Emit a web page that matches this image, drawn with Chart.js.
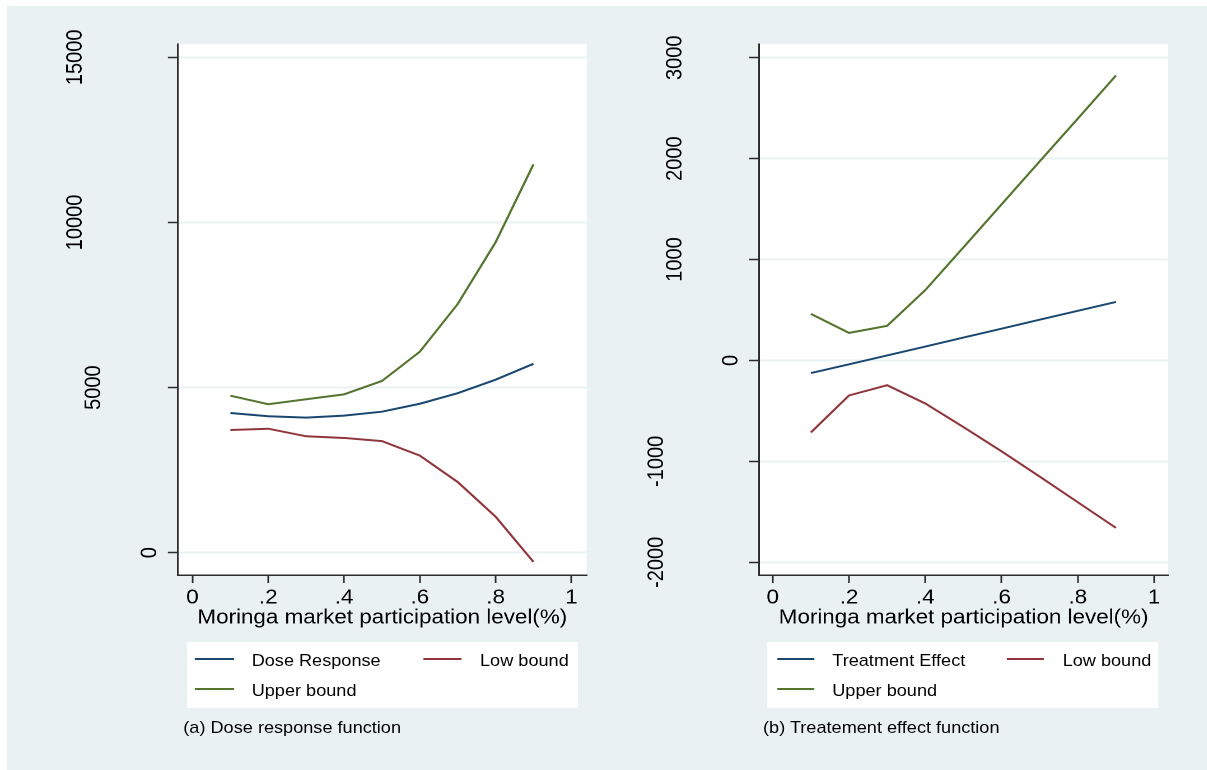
<!DOCTYPE html>
<html>
<head>
<meta charset="utf-8">
<script src="https://cdn.jsdelivr.net/npm/chart.js@4.4.1/dist/chart.umd.min.js"></script>
<style>
  html, body { margin:0; padding:0; background:#ffffff; width:1207px; height:770px; overflow:hidden; }
  #stage { position:absolute; left:0; top:0; width:1078px; height:770px;
           transform:scaleX(1.12); transform-origin:0 0;
           font-family:"Liberation Sans", Arial, sans-serif; color:#000; }
  #bg { position:absolute; left:6.2px; top:6px; right:0; bottom:0; background:#eaf1f3; }
  canvas { position:absolute; top:0; }
  .legend { position:absolute; background:#ffffff; top:641.7px; height:66px; }
  .lg-line { position:absolute; height:2px; }
  .lg-text { position:absolute; font-size:16.2px; line-height:20px; white-space:nowrap; }
  .caption { position:absolute; font-size:16.2px; line-height:20px; white-space:nowrap; top:716.7px; }
</style>
</head>
<body>
<div id="stage"><div id="bg"></div></div>
<script>
// ---------------- data ----------------
const xValues = [0.1, 0.2, 0.3, 0.4, 0.5, 0.6, 0.7, 0.8, 0.9];
const xTicks = [0, 0.2, 0.4, 0.6, 0.8, 1];
const xTickLabels = ['0', '.2', '.4', '.6', '.8', '1'];
const xTitle = 'Moringa market participation level(%)';

const doseResponse = [4230, 4130, 4090, 4150, 4270, 4510, 4830, 5240, 5720];
const doseLow      = [3715, 3755, 3525, 3475, 3380, 2940, 2140, 1090, -280];
const doseUpper    = [4755, 4495, 4645, 4795, 5200, 6085, 7530, 9400, 11760];
const doseYTicks   = [0, 5000, 10000, 15000];
const doseLabels   = ['Dose Response', 'Low bound', 'Upper bound'];

const effect       = [-125, -38, 50, 138, 227, 315, 404, 492, 580];
const effectLow    = [-713, -347, -245, -426, -660, -900, -1150, -1405, -1659];
const effectUpper  = [462, 273, 343, 697, 1121, 1547, 1973, 2396, 2824];
const effectYTicks = [-2000, -1000, 0, 1000, 2000, 3000];
const effectLabels = ['Treatment Effect', 'Low bound', 'Upper bound'];

const captions = ['(a) Dose response function', '(b) Treatement effect function'];

// ---------------- styles ----------------
const NAVY = '#1a476f', MAROON = '#90353b', GREEN = '#55752f';
const AXIS = '#2b2b2b', GRID = '#eaf1f3';
const FONT = '"Liberation Sans", Arial, sans-serif';

const plotBg = {
  id: 'plotBg',
  beforeDraw(chart) {
    const a = chart.chartArea, ctx = chart.ctx;
    ctx.save(); ctx.fillStyle = '#ffffff';
    ctx.fillRect(a.left, a.top, a.right - a.left, a.bottom - a.top);
    ctx.restore();
  }
};
const yLabels = {
  id: 'yLabels',
  afterDraw(chart) {
    const s = chart.scales.y, ctx = chart.ctx;
    ctx.save();
    ctx.fillStyle = '#000'; ctx.font = '20px ' + FONT;
    ctx.textAlign = 'center'; ctx.textBaseline = 'middle';
    s.ticks.forEach(t => {
      const txt = String(t.value);
      const y = s.getPixelForValue(t.value);
      const cx = s.right - 8 - 16.7 * txt.length;
      ctx.save(); ctx.translate(cx, y); ctx.rotate(-Math.PI / 2);
      ctx.fillText(txt, 0, 0); ctx.restore();
    });
    ctx.restore();
  }
};

const stage = document.getElementById('stage');

function makePanel(p) {
  const cv = document.createElement('canvas');
  cv.width = p.canvasW; cv.height = p.canvasH;
  cv.style.left = p.canvasLeft + 'px';
  stage.appendChild(cv);
  const colors = [NAVY, MAROON, GREEN];
  const datasets = p.series.map((arr, i) => ({
    label: p.labels[i],
    data: xValues.map((x, j) => ({ x: x, y: arr[j] })),
    borderColor: colors[i], backgroundColor: colors[i],
    borderWidth: 2, pointRadius: 0, tension: 0, fill: false
  }));
  const tgt = { left: p.area.left - p.canvasLeft, right: p.area.right - p.canvasLeft, top: p.area.top, bottom: p.area.bottom };
  const chart = new Chart(cv, {
    type: 'line',
    data: { datasets: datasets },
    options: {
      responsive: false, animation: false, devicePixelRatio: 2,
      layout: { padding: { left: tgt.left - 9, right: p.canvasW - tgt.right, top: tgt.top, bottom: 20 } },
      plugins: { legend: { display: false }, tooltip: { enabled: false } },
      scales: {
        x: {
          type: 'linear', min: p.xMin, max: p.xMax,
          afterBuildTicks: s => { s.ticks = xTicks.map(v => ({ value: v })); },
          ticks: { callback: (v, i) => xTickLabels[i], font: { family: FONT, size: 20 }, color: '#000',
                   padding: 3, maxRotation: 0, minRotation: 0, autoSkip: false },
          grid: { drawOnChartArea: false, drawTicks: true, tickLength: 8, tickColor: AXIS, tickWidth: 1.5 },
          border: { display: true, color: AXIS, width: 1.5 },
          title: { display: true, text: xTitle, color: '#000', font: { family: FONT, size: 20 },
                   padding: { top: -7, bottom: 0 } }
        },
        y: {
          type: 'linear', min: p.yMin, max: p.yMax,
          afterBuildTicks: s => { s.ticks = p.yTicks.map(v => ({ value: v })); },
          ticks: { display: false },
          grid: { color: GRID, lineWidth: 2, drawTicks: true, tickLength: 9, tickColor: AXIS, tickWidth: 1.5 },
          border: { display: true, color: AXIS, width: 1.5 }
        }
      }
    },
    plugins: [plotBg, yLabels]
  });
  for (let k = 0; k < 3; k++) {
    const ca = chart.chartArea;
    const pad = chart.config.options.layout.padding;
    chart.config.options.layout.padding = {
      left: pad.left + (tgt.left - ca.left),
      top: pad.top + (tgt.top - ca.top),
      right: pad.right + (ca.right - tgt.right),
      bottom: pad.bottom + (ca.bottom - tgt.bottom)
    };
    chart.update();
  }
  // legend built from the chart's datasets
  const lg = document.createElement('div');
  lg.className = 'legend';
  lg.style.left = p.legend.left + 'px';
  lg.style.width = (p.legend.right - p.legend.left) + 'px';
  stage.appendChild(lg);
  const slots = [
    { line: p.legend.line1, text: p.legend.text1, cy: 18.8 },
    { line: p.legend.line2, text: p.legend.text2, cy: 18.8 },
    { line: p.legend.line1, text: p.legend.text1, cy: 48.8 }
  ];
  chart.data.datasets.forEach((ds, i) => {
    const s = slots[i];
    const ln = document.createElement('div');
    ln.className = 'lg-line';
    ln.style.left = s.line + 'px'; ln.style.width = p.legend.lineW + 'px';
    ln.style.top = (s.cy - 2) + 'px'; ln.style.background = ds.borderColor;
    lg.appendChild(ln);
    const tx = document.createElement('div');
    tx.className = 'lg-text';
    tx.style.left = s.text + 'px'; tx.style.top = (s.cy - 10) + 'px';
    tx.textContent = ds.label;
    lg.appendChild(tx);
  });
  const cap = document.createElement('div');
  cap.className = 'caption';
  cap.style.left = p.captionLeft + 'px';
  cap.textContent = p.caption;
  stage.appendChild(cap);
  return chart;
}

makePanel({
  canvasLeft: 0, canvasW: 545, canvasH: 650,
  area: { left: 158.9, right: 523.8, top: 44, bottom: 575 },
  xMin: -0.0383, xMax: 1.0404, yMin: -675, yMax: 15403, yTicks: doseYTicks,
  series: [doseResponse, doseLow, doseUpper], labels: doseLabels,
  legend: { left: 167.2, right: 515.8, line1: 6.9, text1: 57.5, line2: 210.8, text2: 261.4, lineW: 34.5 },
  caption: captions[0], captionLeft: 163.7
});
makePanel({
  canvasLeft: 545, canvasW: 533, canvasH: 650,
  area: { left: 677.8, right: 1042.9, top: 44, bottom: 575 },
  xMin: -0.0357, xMax: 1.0367, yMin: -2126, yMax: 3136, yTicks: effectYTicks,
  series: [effect, effectLow, effectUpper], labels: effectLabels,
  legend: { left: 684.7, right: 1034.5, line1: 9, text1: 58.4, line2: 214.3, text2: 264.1, lineW: 33.5 },
  caption: captions[1], captionLeft: 681.3
});
</script>
</body>
</html>
